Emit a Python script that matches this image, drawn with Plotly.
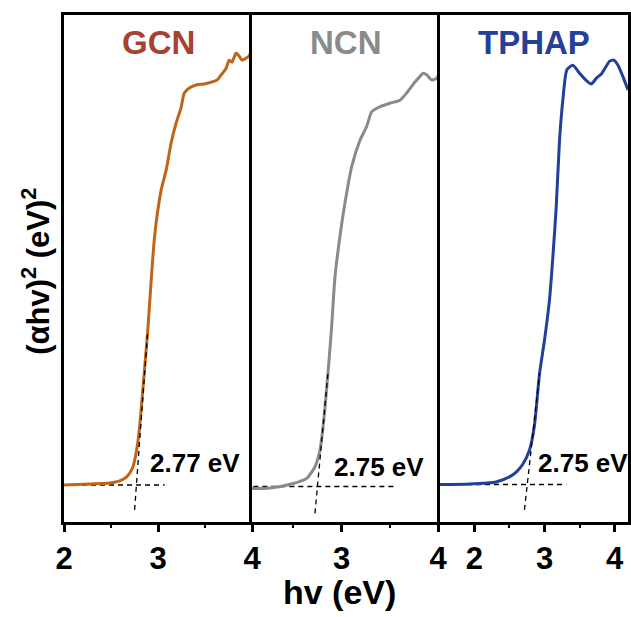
import plotly.graph_objects as go
from plotly.subplots import make_subplots

# ---- data ----
gcn_hv = [2.00, 2.275, 2.487, 2.593, 2.667, 2.73, 2.773, 2.804, 2.847, 2.889, 2.963, 3.034,
          3.087, 3.14, 3.193, 3.245, 3.28, 3.333, 3.407, 3.492, 3.577, 3.63, 3.672, 3.725, 3.757, 3.788,
          3.83, 3.862, 3.894, 3.937, 3.968, 4.0]
gcn_y = [7.3, 7.5, 7.7, 8.1, 8.9, 10.7, 14.2, 18.7, 28.0, 37.3, 56.2, 65.5,
         69.4, 74.8, 78.7, 81.7, 84.6, 85.6, 86.2, 86.4, 86.8, 87.2, 88.2, 89.5, 91.1, 90.7,
         92.5, 91.9, 91.1, 91.5, 91.9, 93.3]

ncn_hv = [2.07, 2.257, 2.498, 2.637, 2.723, 2.775, 2.809, 2.861, 2.896, 2.931, 2.982, 3.034, 3.104,
          3.19, 3.259, 3.311, 3.397, 3.5, 3.604, 3.674, 3.76, 3.794, 3.846, 3.881, 3.933, 3.984, 4.02]
ncn_y = [6.6, 6.7, 7.6, 8.6, 10.9, 14.2, 19.1, 30.0, 38.5, 48.4, 56.3, 62.9, 70.1,
         75.3, 78.0, 80.9, 81.9, 82.6, 83.2, 84.6, 86.8, 87.5, 88.5, 88.2, 87.2, 87.5, 89.2]

tphap_hv = [1.51, 1.929, 2.31, 2.5, 2.6, 2.69, 2.786, 2.857, 2.929, 3.0, 3.071, 3.119, 3.167,
            3.214, 3.261, 3.319, 3.404, 3.5, 3.586, 3.667, 3.743, 3.814, 3.871, 3.929, 3.986,
            4.047, 4.119, 4.19]
tphap_y = [7.4, 7.5, 7.9, 8.9, 9.9, 11.4, 14.2, 19.1, 29.3, 35.9, 43.8, 52.3, 62.2,
           75.3, 83.2, 89.2, 90.1, 88.5, 87.2, 86.4, 87.6, 88.4, 89.7, 90.9, 91.1,
           90.1, 87.8, 85.2]

# tangent (extrapolation) and baseline dashed lines
gcn_tan_hv = [2.751, 2.889]
gcn_tan_y = [2.4, 37.3]
gcn_base_hv = [2.0, 3.07]
gcn_base_y = [7.3, 7.3]

ncn_tan_hv = [2.723, 2.861]
ncn_tan_y = [1.7, 30.0]
ncn_base_hv = [2.084, 3.57]
ncn_base_y = [7.0, 7.0]

tphap_tan_hv = [2.714, 2.929]
tphap_tan_y = [2.4, 29.3]
tphap_base_hv = [1.51, 3.31]
tphap_base_y = [7.4, 7.4]

names = ["GCN", "NCN", "TPHAP"]
gap_labels = ["2.77 eV", "2.75 eV", "2.75 eV"]
gap_label_pos = [(2.889, 11.6), (2.896, 10.9), (2.881, 11.6)]
x_ranges = [[2.0, 4.0], [2.07, 4.02], [1.51, 4.19]]

line_colors = ["#BF6419", "#8A8A8A", "#22409A"]
title_colors = ["#A5432E", "#8A8A8A", "#23409A"]

FONT = "Liberation Sans, Arial, sans-serif"

fig = make_subplots(rows=1, cols=3, shared_yaxes=True, horizontal_spacing=0)

series = [(gcn_hv, gcn_y), (ncn_hv, ncn_y), (tphap_hv, tphap_y)]
tangents = [(gcn_tan_hv, gcn_tan_y), (ncn_tan_hv, ncn_tan_y), (tphap_tan_hv, tphap_tan_y)]
bases = [(gcn_base_hv, gcn_base_y), (ncn_base_hv, ncn_base_y), (tphap_base_hv, tphap_base_y)]

for i in range(3):
    col = i + 1
    fig.add_trace(go.Scatter(x=bases[i][0], y=bases[i][1], mode="lines",
                             line=dict(color="black", width=1.3, dash="5px,4px"),
                             showlegend=False, hoverinfo="skip"), row=1, col=col)
    fig.add_trace(go.Scatter(x=series[i][0], y=series[i][1], mode="lines",
                             line=dict(color=line_colors[i], width=3, shape="spline", smoothing=0.6),
                             name=names[i], showlegend=False), row=1, col=col)
    fig.add_trace(go.Scatter(x=tangents[i][0], y=tangents[i][1], mode="lines",
                             line=dict(color="black", width=1.3, dash="5px,4px"),
                             showlegend=False, hoverinfo="skip"), row=1, col=col)
    xr = "x" if i == 0 else f"x{col}"
    yr = "y" if i == 0 else f"y{col}"
    fig.add_annotation(x=gap_label_pos[i][0], y=gap_label_pos[i][1], xref=xr, yref=yr,
                       text=gap_labels[i], showarrow=False, xanchor="left", yanchor="middle",
                       font=dict(family=FONT, size=26, color="black", weight="bold"))
    fig.add_annotation(x=0.5, y=0.945, xref=f"{xr} domain", yref="paper",
                       text=names[i], showarrow=False, xanchor="center", yanchor="middle",
                       font=dict(family=FONT, size=33, color=title_colors[i], weight="bold"))
    fig.update_xaxes(range=x_ranges[i], row=1, col=col, automargin=False,
                     showline=True, linewidth=3, linecolor="black", mirror=True,
                     ticks="outside", ticklen=7, tickwidth=2.5, tickcolor="black",
                     tick0=2, dtick=1,
                     minor=dict(ticks="outside", ticklen=3, tickwidth=2, dtick=0.5, tick0=2, tickcolor="black"),
                     showgrid=False, zeroline=False,
                     tickfont=dict(family=FONT, size=31, color="black", weight="bold"))
    fig.update_yaxes(range=[0, 100], row=1, col=col, automargin=False,
                     showline=True, linewidth=3, linecolor="black", mirror=(i == 2),
                     ticks="", showticklabels=False, showgrid=False, zeroline=False)

# axis titles
fig.add_annotation(x=-0.05, y=0.495, xref="paper", yref="paper", textangle=-90,
                   text="(\u03b1hv)<sup>2</sup> (eV)<sup>2</sup>", showarrow=False,
                   xanchor="center", yanchor="middle",
                   font=dict(family=FONT, size=31, color="black", weight="bold"))
fig.add_annotation(x=0.489, y=-0.138, xref="paper", yref="paper",
                   text="hv (eV)", showarrow=False, xanchor="center", yanchor="middle",
                   font=dict(family=FONT, size=34, color="black", weight="bold"))

fig.update_layout(width=631, height=617, margin=dict(l=64, r=3, t=15, b=95, autoexpand=False),
                  plot_bgcolor="white", paper_bgcolor="white", showlegend=False)

fig.write_html("out.html")
